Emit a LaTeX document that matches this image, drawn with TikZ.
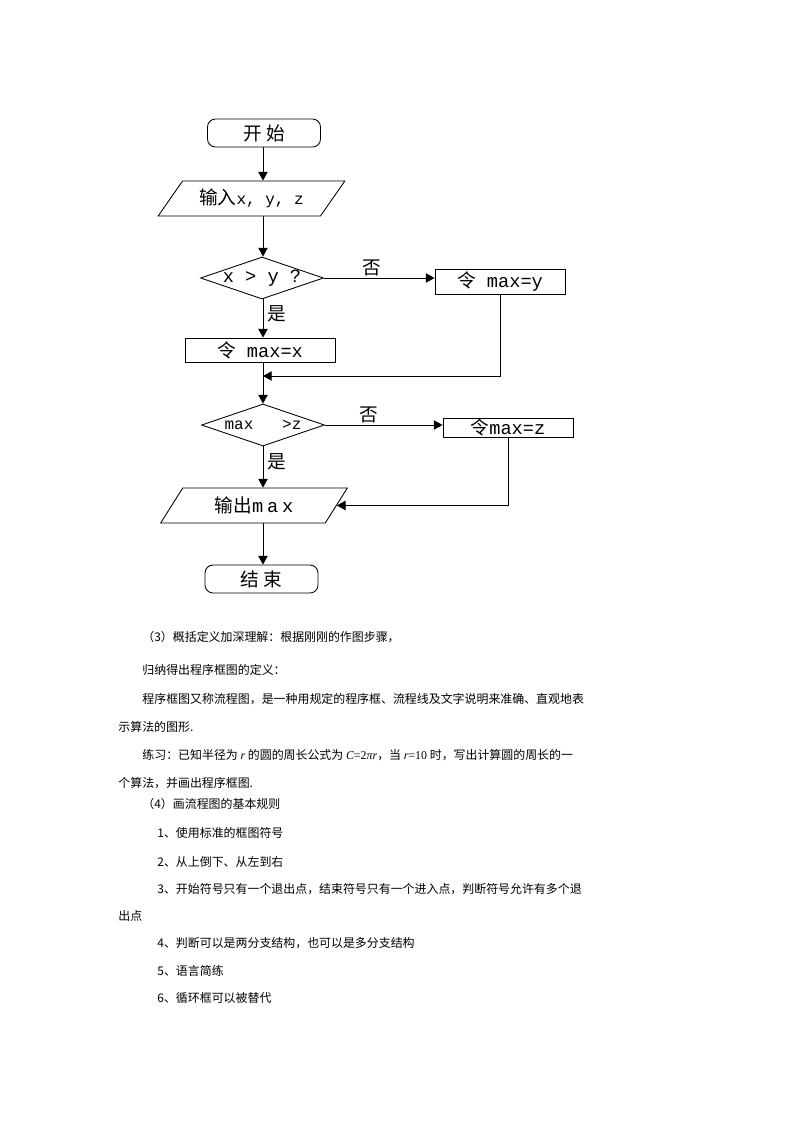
\documentclass[tikz,border=0pt]{standalone}
\usepackage{fontspec}
\usetikzlibrary{shapes.geometric, arrows.meta}
\newfontfamily\cjk{Noto Sans CJK SC}
\newfontfamily\mono{Liberation Mono}
\newfontfamily\widemono[LetterSpace=20]{Liberation Mono}
\newfontfamily\tms{Liberation Serif}
\newcommand{\flowtext}{\cjk\fontsize{14pt}{16pt}\selectfont}
\newcommand{\bodytext}{\cjk\fontsize{8.95pt}{11pt}\selectfont}
\newcommand{\latn}[2][14pt]{{\mono\fontsize{#1}{#1}\selectfont #2}}
\newcommand{\itvar}[1]{{\tms\itshape #1}}

\begin{document}
\begin{tikzpicture}[x=0.75pt, y=-0.75pt, >={Triangle[length=6.5pt,width=7pt]}, ->, line width=0.65pt,
    term/.style={draw, rounded corners=6pt, minimum width=84.75pt, minimum height=21pt, inner sep=0pt, font=\flowtext},
    io/.style={draw, trapezium, trapezium left angle=38, trapezium right angle=142, trapezium stretches body,
        minimum width=140pt, minimum height=26.25pt, inner sep=0pt, font=\flowtext},
    test/.style={draw, diamond, minimum width=92.25pt, minimum height=31.5pt, inner sep=0pt, font=\flowtext},
    proc/.style={draw, minimum width=97.5pt, minimum height=18.75pt, inner sep=0pt, font=\flowtext},
    line/.style={anchor=base west, inner sep=0pt, font=\bodytext}]
    \useasboundingbox (0,0) rectangle (800,1132);
    \coordinate (ax) at (263,0);

    \node[term] (start) at (264,133) {开\hspace{3.5pt}始};
    \node[io] (in) at (251.5,198.5) {\makebox[0pt]{输入\latn[12pt]{x, y, z}}};
    \node[test] (d1) at (262,278) {\makebox[0pt]{\latn{x > y ?}}};
    \node[proc] (ybox) at (500,281.5) {令\latn{\ max=y}};
    \node[proc, minimum width=112.5pt, minimum height=18pt] (mx) at (260,350) {令\latn{\ max=x}};
    \coordinate (j1) at (263,376);
    \node[test] (d2) at (263,425) {\makebox[0pt]{\latn[12pt]{max~~~>z}}};
    \node[proc, minimum height=14.25pt] (zbox) at (508,427.5) {令\latn{max=z}};
    \node[io] (out) at (254,505.5) {\makebox[0pt]{输出{\widemono\fontsize{14pt}{14pt}\selectfont max}}};
    \node[term] (end) at (261.5,579) {结\hspace{3.5pt}束};

    \foreach \a/\b in {start/in, in/d1, mx/d2, out/end}{\draw (ax |- \a.south) -- (ax |- \b.north);}
    \foreach \a/\b in {d1/mx, d2/out}{\draw (ax |- \a.south) -- (ax |- \b.north) node[pos=0.38, right, font=\flowtext]{是};}
    \foreach \a/\b/\p in {d1/ybox/0.43, d2/zbox/0.37}{\draw (\a.east) -- (\a.east -| \b.west) node[pos=\p, above, inner sep=1pt, font=\flowtext]{否};}
    \draw (ybox.south) |- (j1);
    \draw (zbox.south) |- (out.east);

    \foreach \n/\x/\y/\t in {1/142/641.5/{（3）概括定义加深理解：根据刚刚的作图步骤，},
        2/142/674.5/{归纳得出程序框图的定义：},
        3/142/703.5/{程序框图又称流程图，是一种用规定的程序框、流程线及文字说明来准确、直观地表},
        4/118/731.5/{示算法的图形.},
        5/142/759.5/{练习：已知半径为 \itvar{r} 的圆的周长公式为 \itvar{C}{\tms =2}\itvar{πr}，当 \itvar{r}{\tms =10} 时，写出计算圆的周长的一},
        6/118/787.5/{个算法，并画出程序框图.},
        7/142/808.5/{（4）画流程图的基本规则},
        8/157/837.5/{1、使用标准的框图符号},
        9/157/866.5/{2、从上倒下、从左到右},
        10/157/893.5/{3、开始符号只有一个退出点，结束符号只有一个进入点，判断符号允许有多个退},
        11/118/920.5/{出点},
        12/157/947.5/{4、判断可以是两分支结构，也可以是多分支结构},
        13/157/975.5/{5、语言简练},
        14/157/1002.5/{6、循环框可以被替代}}
        {\node[line] (l\n) at (\x,\y) {\t};}
\end{tikzpicture}
\end{document}
